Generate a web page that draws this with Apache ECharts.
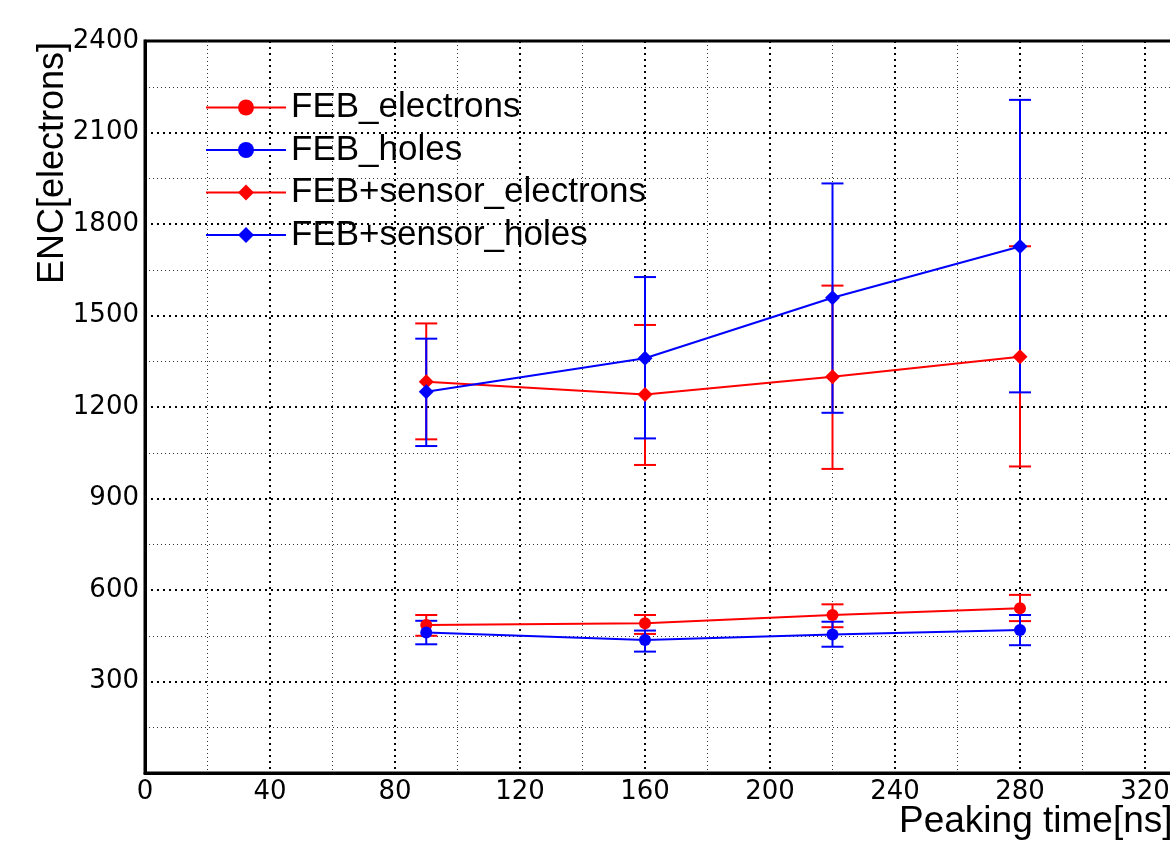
<!DOCTYPE html>
<html>
<head>
<meta charset="utf-8">
<script src="https://cdn.jsdelivr.net/npm/echarts@6/dist/echarts.min.js"></script>
<style>
  html, body { margin: 0; padding: 0; background: #fff; }
  #chart { width: 1170px; height: 846px; }
</style>
</head>
<body>
<div id="chart"></div>
<script>
// peaking times (ns)
const times = [90, 160, 220, 280]

// FEB only
const febElec = [485, 491, 518, 540]
const febElecLow = [450, 456, 478, 498]
const febElecHigh = [518, 518, 553, 584]
const febHoles = [461, 436, 454, 469]
const febHolesLow = [422, 398, 414, 419]
const febHolesHigh = [499, 467, 496, 518]

// FEB + sensor
const sensElec = [1283, 1241, 1299, 1365]
const sensElecLow = [1094, 1010, 997, 1005]
const sensElecHigh = [1474, 1469, 1598, 1727]
const sensHoles = [1250, 1360, 1558, 1726]
const sensHolesLow = [1072, 1097, 1181, 1248]
const sensHolesHigh = [1424, 1626, 1933, 2207]

const yTicks = [0, 300, 600, 900, 1200, 1500, 1800, 2100, 2400]

const RED = '#ff0000'
const BLUE = '#0000ff'
const FONT = '"Liberation Sans", Arial, sans-serif'
const TICK_FONT = '"DejaVu Sans", sans-serif'

const pts = (ys) => times.map((t, i) => [t, ys[i]])
const bars = (lo, hi) => times.map((t, i) => [t, lo[i], hi[i]])

// error bar: vertical line plus two caps
function errorBar(color) {
  return function (params, api) {
    const top = api.coord([api.value(0), api.value(2)])
    const bot = api.coord([api.value(0), api.value(1)])
    const w = 11
    const style = { stroke: color, lineWidth: 2 }
    return {
      type: 'group',
      children: [
        { type: 'line', shape: { x1: top[0], y1: top[1], x2: bot[0], y2: bot[1] }, style },
        { type: 'line', shape: { x1: top[0] - w, y1: top[1], x2: top[0] + w, y2: top[1] }, style },
        { type: 'line', shape: { x1: bot[0] - w, y1: bot[1], x2: bot[0] + w, y2: bot[1] }, style }
      ]
    }
  }
}

function errSeries(name, lo, hi, color) {
  return {
    name,
    type: 'custom',
    renderItem: errorBar(color),
    encode: { x: 0, y: [1, 2] },
    data: bars(lo, hi),
    z: 3
  }
}

function lineSeries(name, ys, color, symbol, size) {
  return {
    name,
    type: 'line',
    data: pts(ys),
    symbol,
    symbolSize: size,
    showSymbol: true,
    color,
    lineStyle: { color, width: 2 },
    itemStyle: { color },
    z: 4
  }
}

const chart = echarts.init(document.getElementById('chart'))
chart.setOption({
  animation: false,
  textStyle: { fontFamily: FONT },
  grid: {
    left: 145,
    top: 41,
    width: 1125,
    bottom: 73,
    outerBoundsMode: 'none',
    containLabel: false,
    show: true,
    borderColor: '#000',
    borderWidth: 3,
    backgroundColor: 'transparent'
  },
  legend: {
    left: 200,
    top: 84,
    orient: 'vertical',
    itemWidth: 80,
    itemHeight: 20,
    itemGap: 5.5,
    data: ['FEB_electrons', 'FEB_holes', 'FEB+sensor_electrons', 'FEB+sensor_holes'],
    textStyle: { fontSize: 35, color: '#000', fontFamily: FONT, lineHeight: 37 }
  },
  xAxis: {
    type: 'value',
    min: 0,
    max: 360,
    interval: 40,
    axisLine: { lineStyle: { color: '#000', width: 3 } },
    axisTick: { show: false },
    axisLabel: { fontSize: 26, fontFamily: TICK_FONT, color: '#000', margin: 6, formatter: (v) => String(v) },
    splitLine: { show: true, lineStyle: { color: '#000', width: 2, type: [2, 4] } },
    minorTick: { show: false, splitNumber: 2 },
    minorSplitLine: { show: true, lineStyle: { color: '#333', width: 1, type: [1, 3] } }
  },
  yAxis: {
    type: 'value',
    min: yTicks[0],
    max: yTicks[yTicks.length - 1],
    interval: yTicks[1] - yTicks[0],
    axisLine: { lineStyle: { color: '#000', width: 3 } },
    axisTick: { show: false },
    axisLabel: { fontSize: 26, fontFamily: TICK_FONT, color: '#000', margin: 6, showMinLabel: false, formatter: (v) => String(v) },
    splitLine: { show: true, lineStyle: { color: '#000', width: 2, type: [2, 4] } },
    minorTick: { show: false, splitNumber: 2 },
    minorSplitLine: { show: true, lineStyle: { color: '#333', width: 1, type: [1, 3] } }
  },
  graphic: [
    {
      type: 'text',
      x: 53,
      y: 163,
      rotation: Math.PI / 2,
      style: {
        text: 'ENC[electrons]',
        font: '36px ' + FONT,
        fill: '#000',
        align: 'center',
        verticalAlign: 'middle'
      }
    },
    {
      type: 'text',
      x: 899,
      y: 822,
      style: {
        text: 'Peaking time[ns]',
        font: '37px ' + FONT,
        fill: '#000',
        align: 'left',
        verticalAlign: 'middle'
      }
    }
  ],
  series: [
    errSeries('err_feb_e', febElecLow, febElecHigh, RED),
    errSeries('err_feb_h', febHolesLow, febHolesHigh, BLUE),
    errSeries('err_sens_e', sensElecLow, sensElecHigh, RED),
    errSeries('err_sens_h', sensHolesLow, sensHolesHigh, BLUE),
    lineSeries('FEB_electrons', febElec, RED, 'circle', 12),
    lineSeries('FEB_holes', febHoles, BLUE, 'circle', 12),
    lineSeries('FEB+sensor_electrons', sensElec, RED, 'diamond', 15),
    lineSeries('FEB+sensor_holes', sensHoles, BLUE, 'diamond', 15)
  ]
})
</script>
</body>
</html>
